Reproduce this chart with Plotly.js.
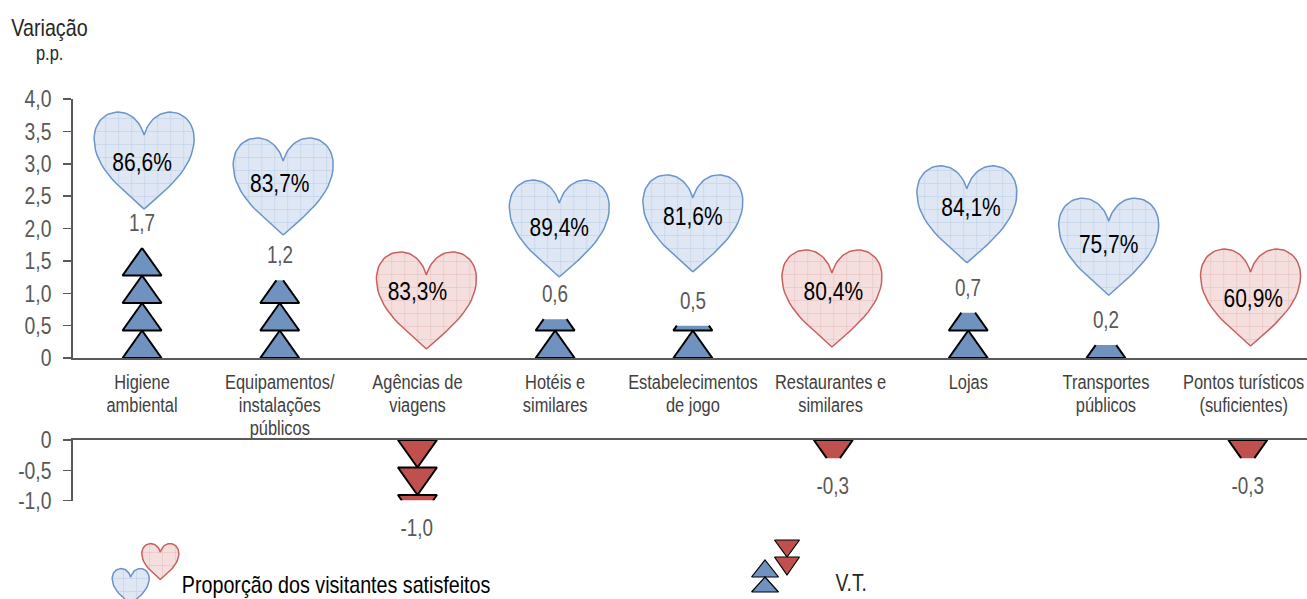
<!DOCTYPE html>
<html><head><meta charset="utf-8">
<script src="https://cdn.plot.ly/plotly-3.0.1.min.js"></script>
<style>html,body{margin:0;padding:0;background:#fff;overflow:hidden}#c{width:1307px;height:599px}</style>
</head><body><div id="c"></div>
<script>
// ---- data ----
const categories = ["Higiene<br>ambiental","Equipamentos/<br>instalações<br>públicos","Agências de<br>viagens","Hotéis e<br>similares","Estabelecimentos<br>de jogo","Restaurantes e<br>similares","Lojas","Transportes<br>públicos","Pontos turísticos<br>(suficientes)"];
const variation = [1.7,1.2,-1.0,0.6,0.5,-0.3,0.7,0.2,-0.3];
const satisfaction = [86.6,83.7,83.3,89.4,81.6,80.4,84.1,75.7,60.9];
const topTicks = [0,0.5,1,1.5,2,2.5,3,3.5,4];
const bottomTicks = [0,-0.5,-1];
// placement of the glyphs and their labels
const stackCol = [0,1,2.0,3,4,5.02,6,7,8.03];
const heartCol = [0.015,1.025,2.065,3.03,4.0,5.01,5.99,7.02,8.05];
const heartTip = [2.30,1.90,0.14,1.25,1.33,0.17,1.47,0.97,0.185];
const labelCol = [0,1.0,2.0,3.03,4.0,5.02,6.02,7.02,8.07];
const labelLevel = [2.98,2.67,0.99,1.98,2.15,1.00,2.29,1.72,0.88];

// ---- geometry of the page ----
const W=1307,H=599,X0=73.2,COLW=137.7,Y4=99,Y0=358,Yb0=440,Ybm=500.5;
const pxTop=(Y0-Y4)/4, pxBot=(Ybm-Yb0);
const xMax=(W-X0)/COLW-0.5;
const FONT='"Liberation Sans",Arial,sans-serif';
const GRAY='#595959';
const NARROW=0.82;
const comma=v=>{const s=Math.abs(v).toFixed(1).replace('.',',');return (v<0?'-':'')+s;};
const tickFmt=v=>v===0?'0':comma(v);

function heartPts(s){
  const seg=[[[0,0],[-20,18],[-50,40],[-50,70]],[[-50,70],[-50,87],[-39,97],[-26,97]],[[-26,97],[-14,97],[-4,88],[0,74]]];
  const L=[];
  seg.forEach(b=>{for(let i=0;i<=16;i++){const t=i/16,u=1-t;
    L.push([u*u*u*b[0][0]+3*u*u*t*b[1][0]+3*u*t*t*b[2][0]+t*t*t*b[3][0],u*u*u*b[0][1]+3*u*u*t*b[1][1]+3*u*t*t*b[2][1]+t*t*t*b[3][1]]);}});
  const R=L.slice().reverse().map(p=>[-p[0],p[1]]);
  return L.concat(R).map(p=>[p[0]*s,p[1]*s]);
}
const BLUE={line:'#6A94CA',bg:'#DEE7F3',fg:'#BDD0E9',tri:'#7092BE'};
const RED={line:'#C9605D',bg:'#F4DFDE',fg:'#E8BFBE',tri:'#C0504D'};
function heartTrace(xs,ys,c,xa,ya){
  return {type:'scatter',mode:'lines',x:xs,y:ys,xaxis:xa,yaxis:ya,fill:'toself',hoverinfo:'skip',showlegend:false,
    fillcolor:c.bg,line:{color:c.line,width:1.5,shape:'linear'},
    fillpattern:{shape:'+',size:13,solidity:0.09,fgcolor:c.fg,bgcolor:c.bg,fillmode:'replace'}};
}

const traces=[];
satisfaction.forEach((s,i)=>{
  const pts=heartPts(1);
  traces.push(heartTrace(pts.map(p=>heartCol[i]+p[0]/COLW),pts.map(p=>heartTip[i]+p[1]/pxTop),variation[i]>=0?BLUE:RED,'x','y'));
});
const TRI=27.5, HALF=19.5;
function stack(v,i,px,c,xa,ya){
  const sign=v<0?-1:1,h=TRI/px,a=Math.abs(v),hw=HALF/COLW;
  const fx=[],fy=[],sx=[],sy=[];
  for(let b=0;b<a-0.01;b+=h){
    const top=Math.min(b+h,a),f=1-(top-b)/h,w=hw*f;
    const poly=f>0.02?[[i-hw,b],[i+hw,b],[i+w,top],[i-w,top]]:[[i-hw,b],[i+hw,b],[i,top]];
    poly.forEach(p=>{fx.push(p[0]);fy.push(sign*p[1]);});fx.push(null);fy.push(null);
    const open=f>0.02?[[i-w,top],[i-hw,b],[i+hw,b],[i+w,top]]:[[i,top],[i-hw,b],[i+hw,b],[i,top]];
    open.forEach(p=>{sx.push(p[0]);sy.push(sign*p[1]);});sx.push(null);sy.push(null);
  }
  traces.push({type:'scatter',mode:'lines',x:fx,y:fy,xaxis:xa,yaxis:ya,fill:'toself',fillcolor:c.tri,line:{width:0,color:c.tri},hoverinfo:'skip',showlegend:false});
  traces.push({type:'scatter',mode:'lines',x:sx,y:sy,xaxis:xa,yaxis:ya,line:{width:2,color:'#000'},hoverinfo:'skip',showlegend:false});
}
variation.forEach((v,i)=>{ if(v>=0) stack(v,stackCol[i],pxTop,BLUE,'x','y'); else stack(v,stackCol[i],pxBot,RED,'x2','y2'); });
traces.push({type:'scatter',mode:'text',x:labelCol,y:labelLevel,xaxis:'x',yaxis:'y',text:satisfaction.map(s=>s.toFixed(1).replace('.',',')+'%'),
  textposition:'middle center',textfont:{family:FONT,size:25.6,color:'#000'},hoverinfo:'skip',showlegend:false,cliponaxis:false});

function legendHeart(cx,tipY,c){const p=heartPts(0.37);traces.push(heartTrace(p.map(q=>cx+q[0]),p.map(q=>tipY-q[1]),c,'x3','y3'));}
legendHeart(130.7,604.5,BLUE);
legendHeart(160.3,579.5,RED);
function legendTri(cx,baseY,apexY,hw,c){
  traces.push({type:'scatter',mode:'lines',x:[cx-hw,cx+hw,cx,cx-hw],y:[baseY,baseY,apexY,baseY],xaxis:'x3',yaxis:'y3',fill:'toself',fillcolor:c.tri,
    line:{color:'#000',width:1.2},hoverinfo:'skip',showlegend:false});
}
legendTri(787,540,557,12.5,RED);legendTri(787,557,575,12.5,RED);
legendTri(765,577,560,13.5,BLUE);legendTri(765,592,577,13.5,BLUE);

const ann=[];
variation.forEach((v,i)=>{
  ann.push({x:stackCol[i],y:v,xref:v>=0?'x':'x2',yref:v>=0?'y':'y2',text:comma(v),showarrow:false,xanchor:'center',yanchor:'middle',
    yshift:v>=0?25:-27.5,font:{family:FONT,size:23,color:GRAY}});
});
const page=(t,x,y,size,color)=>ann.push({xref:'x3',yref:'y3',x,y,text:t,showarrow:false,xanchor:'center',yanchor:'middle',font:{family:FONT,size,color}});
page('Variação',49,27,24,'#262626');
page('p.p.',49,53,20,'#262626');
page('Proporção dos visitantes satisfeitos',336,584,24,'#000');
page('V.T.',851,583,23.5,'#262626');

const yaxisBase={showgrid:false,zeroline:false,showline:true,linecolor:GRAY,linewidth:2,ticks:'outside',ticklen:8,tickwidth:1.5,tickcolor:GRAY,
  tickfont:{family:FONT,size:23.6,color:GRAY},tickmode:'array',anchor:'x',automargin:false,ticklabelstandoff:7};
const span=s=>'<span style="font-size:20px">'+s+'</span>';
const layout={width:W,height:H,margin:{l:0,r:0,t:0,b:0},paper_bgcolor:'#fff',plot_bgcolor:'rgba(0,0,0,0)',showlegend:false,
  xaxis:{domain:[X0/W,1],range:[-0.5,xMax],anchor:'y',showgrid:false,zeroline:false,showline:true,linecolor:GRAY,linewidth:2,ticks:'',tickmode:'array',
    tickvals:categories.map((c,i)=>i),ticktext:categories.map(c=>c.split('<br>').map(span).join('<br>')),ticklabeloverflow:'allow',
    tickangle:0,tickfont:{family:FONT,size:17.7,color:'#404040'},ticklabelstandoff:8,automargin:false},
  yaxis:Object.assign({},yaxisBase,{domain:[(H-Y0)/H,(H-Y4)/H],range:[0,4],tickvals:topTicks,ticktext:topTicks.map(tickFmt),anchor:'x'}),
  xaxis2:{domain:[X0/W,1],range:[-0.5,xMax],anchor:'y2',side:'top',showgrid:false,zeroline:false,showline:true,linecolor:GRAY,linewidth:2,ticks:'',showticklabels:false},
  yaxis2:Object.assign({},yaxisBase,{domain:[(H-Ybm)/H,(H-Yb0)/H],range:[-1,0],tickvals:bottomTicks,ticktext:bottomTicks.map(tickFmt),anchor:'x2'}),
  xaxis3:{domain:[0,1],range:[0,W],anchor:'y3',visible:false,fixedrange:true},
  yaxis3:{domain:[0,1],range:[H,0],anchor:'x3',visible:false,fixedrange:true},
  annotations:ann};
Plotly.newPlot('c',traces,layout,{displayModeBar:false,staticPlot:true}).then(gd=>{
  // the reference uses a condensed sans: squeeze the real text horizontally
  gd.querySelectorAll('svg text').forEach(t=>{
    const lines=t.querySelectorAll(':scope > tspan.line');
    (lines.length?Array.from(lines):[t]).forEach(el=>{
      const len=el.getComputedTextLength();
      if(len>0){el.setAttribute('textLength',(len*NARROW).toFixed(2));el.setAttribute('lengthAdjust','spacingAndGlyphs');}
    });
  });
});
</script></body></html>
